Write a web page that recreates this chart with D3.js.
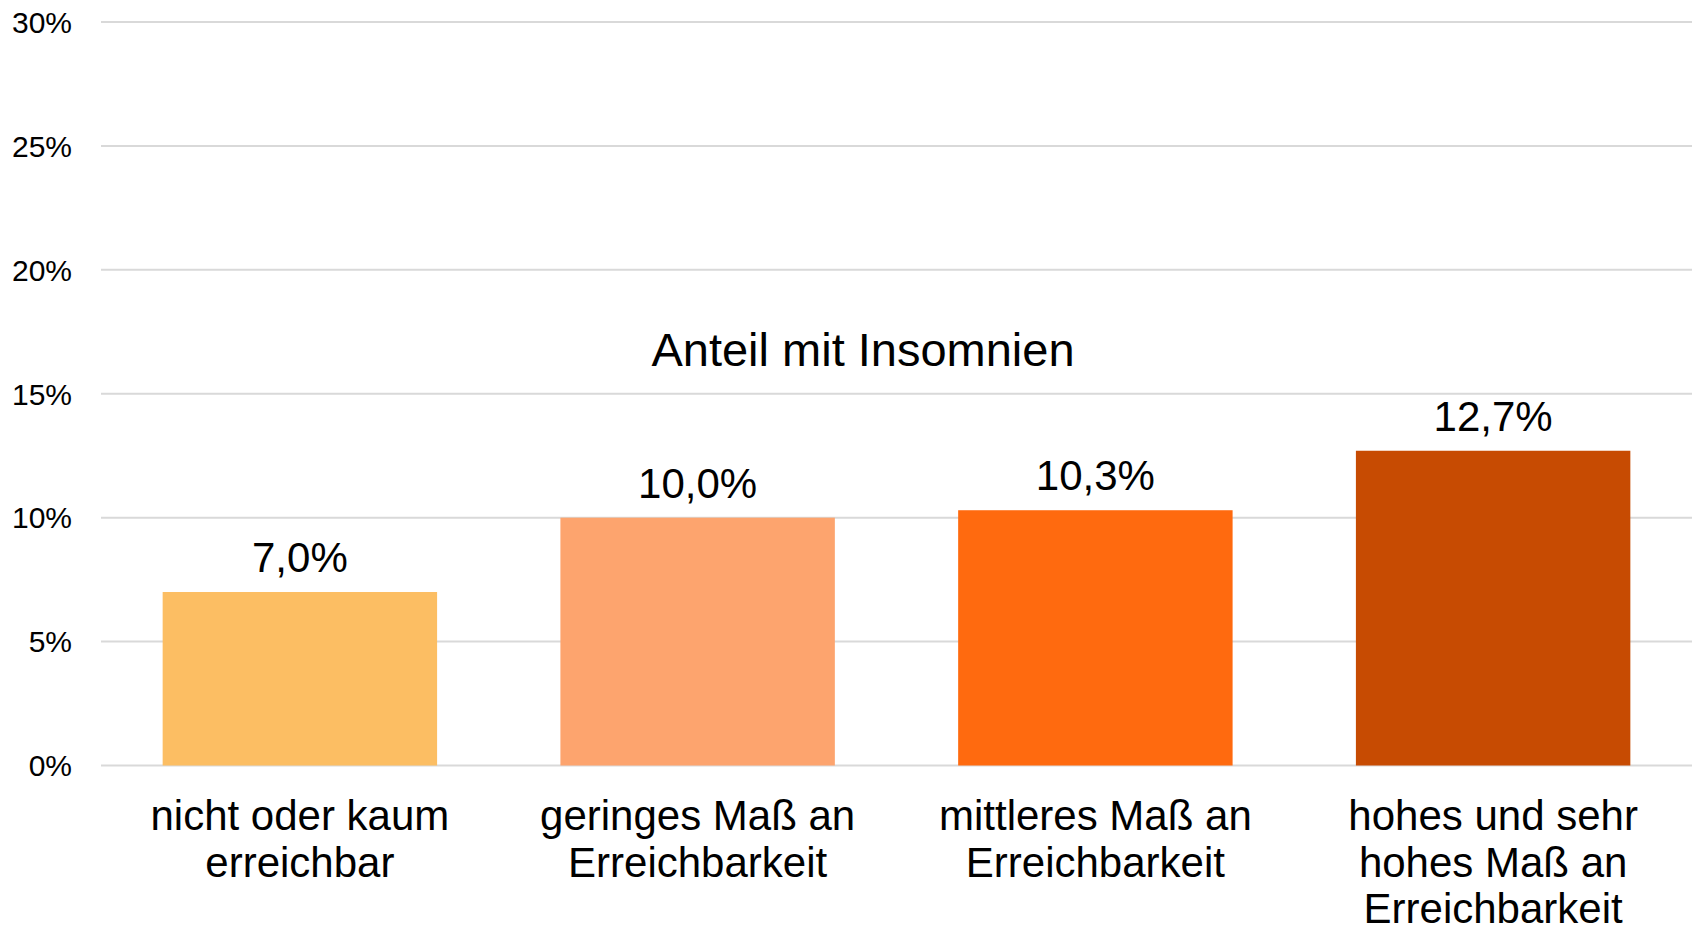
<!DOCTYPE html>
<html lang="de">
<head>
<meta charset="utf-8">
<title>Anteil mit Insomnien</title>
<script src="https://cdn.jsdelivr.net/npm/d3@7"></script>
<style>
  body { margin: 0; background: #fff; }
  svg { display: block; font-family: "Liberation Sans", Arial, sans-serif; }
</style>
</head>
<body>
<svg id="chart" width="1698" height="931"></svg>
<script>
// data
var categories = [
  ["nicht oder kaum", "erreichbar"],
  ["geringes Maß an", "Erreichbarkeit"],
  ["mittleres Maß an", "Erreichbarkeit"],
  ["hohes und sehr", "hohes Maß an", "Erreichbarkeit"]
];
var values = [7.0, 10.0, 10.3, 12.7];
var barColors = ["#fcbe63", "#fda46e", "#ff6a0f", "#c74b02"];
var yTicks = [0, 5, 10, 15, 20, 25, 30];
var title = "Anteil mit Insomnien";

(function () {
  var svg = d3.select("#chart");
  var plotLeft = 101, plotRight = 1692, plotTop = 22, plotBottom = 765.5;

  var x = d3.scaleBand()
    .domain(d3.range(values.length))
    .range([plotLeft, plotRight])
    .paddingInner(0.31)
    .paddingOuter(0.155);

  var y = d3.scaleLinear().domain([0, 30]).range([plotBottom, plotTop]);

  var fmt = function (v) { return v.toFixed(1).replace(".", ",") + "%"; };

  // gridlines
  svg.append("g").selectAll("line")
    .data(yTicks)
    .join("line")
    .attr("x1", plotLeft).attr("x2", plotRight)
    .attr("y1", function (d) { return y(d); })
    .attr("y2", function (d) { return y(d); })
    .attr("stroke", "#d9d9d9")
    .attr("stroke-width", 2);

  // y tick labels
  svg.append("g").selectAll("text")
    .data(yTicks)
    .join("text")
    .attr("x", 72)
    .attr("y", function (d) { return y(d); })
    .attr("dy", "0.36em")
    .attr("text-anchor", "end")
    .attr("font-size", 30)
    .attr("fill", "#000")
    .text(function (d) { return d + "%"; });

  // bars
  svg.append("g").selectAll("rect")
    .data(values)
    .join("rect")
    .attr("x", function (d, i) { return x(i); })
    .attr("width", x.bandwidth())
    .attr("y", function (d) { return y(d); })
    .attr("height", function (d) { return y(0) - y(d); })
    .attr("fill", function (d, i) { return barColors[i]; });

  // value labels
  svg.append("g").selectAll("text")
    .data(values)
    .join("text")
    .attr("x", function (d, i) { return x(i) + x.bandwidth() / 2; })
    .attr("y", function (d) { return y(d) - 20; })
    .attr("text-anchor", "middle")
    .attr("font-size", 42)
    .attr("fill", "#000")
    .text(fmt);

  // category labels
  var cat = svg.append("g").selectAll("text")
    .data(categories)
    .join("text")
    .attr("text-anchor", "middle")
    .attr("font-size", 42)
    .attr("fill", "#000");
  cat.each(function (lines, i) {
    d3.select(this).selectAll("tspan")
      .data(lines)
      .join("tspan")
      .attr("x", x(i) + x.bandwidth() / 2)
      .attr("y", function (d, j) { return 830 + j * 46.5; })
      .text(function (d) { return d; });
  });

  // title
  svg.append("text")
    .attr("x", 863)
    .attr("y", 366)
    .attr("text-anchor", "middle")
    .attr("font-size", 47)
    .attr("fill", "#000")
    .text(title);
})();
</script>
</body>
</html>
